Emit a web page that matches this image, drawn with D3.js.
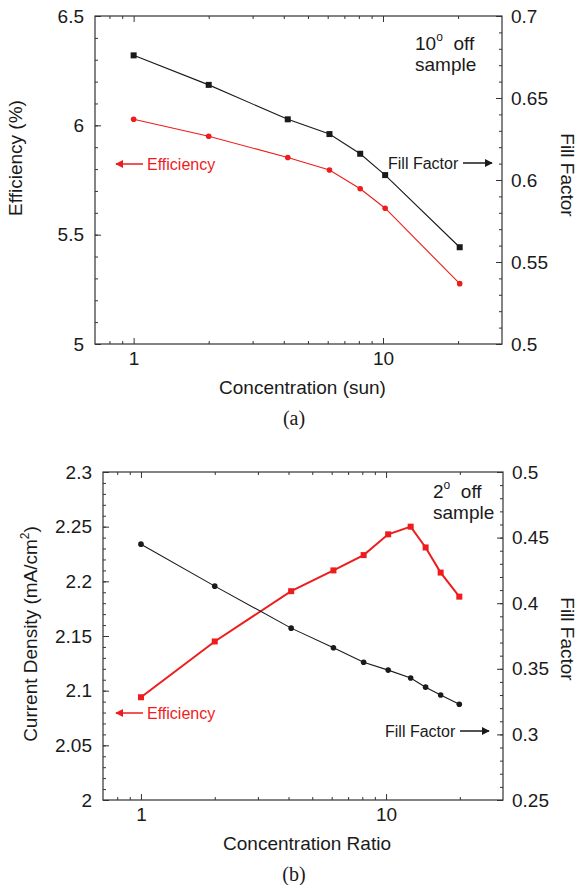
<!DOCTYPE html>
<html>
<head>
<meta charset="utf-8">
<script src="https://cdn.jsdelivr.net/npm/d3@7"></script>
<style>
    body { margin: 0; background: #fff; }
    svg text { font-family: "Liberation Sans", Arial, sans-serif; }
</style>
</head>
<body>
<div id="chart"></div>
<script>
// (a) 10 deg off sample
const concA = [1, 2, 4.15, 6.1, 8.1, 10.2, 20.3];
const effA = [6.028, 5.950, 5.853, 5.796, 5.710, 5.621, 5.276];
const ffA = [0.676, 0.658, 0.637, 0.628, 0.616, 0.603, 0.559];

// (b) 2 deg off sample
const concB = [1, 2, 4.1, 6.1, 8.1, 10.2, 12.6, 14.5, 16.7, 19.9];
const jB = [2.094, 2.145, 2.191, 2.210, 2.224, 2.243, 2.250, 2.231, 2.208, 2.186];
const ffB = [0.445, 0.413, 0.381, 0.366, 0.355, 0.349, 0.343, 0.336, 0.330, 0.323];

// tick labels
const xMajor = [1, 10];
const xMinor = [0.8, 0.9, 2, 3, 4, 5, 6, 7, 8, 9, 20];
const effTicksA = [5, 5.5, 6, 6.5];
const ffTicksA = [0.5, 0.55, 0.6, 0.65, 0.7];
const jTicksB = [2, 2.05, 2.1, 2.15, 2.2, 2.25, 2.3];
const ffTicksB = [0.25, 0.3, 0.35, 0.4, 0.45, 0.5];

const RED = "#ee1c1c";
const INK = "#1a1a1a";
const AXIS = "#333";

const svg = d3.select("#chart").append("svg")
    .attr("width", 581)
    .attr("height", 885);

// arrow heads
const defs = svg.append("defs");
[["arrRed", RED], ["arrInk", INK]].forEach(([id, c]) => {
    defs.append("marker")
        .attr("id", id)
        .attr("viewBox", "0 0 10 10")
        .attr("refX", 9).attr("refY", 5)
        .attr("markerWidth", 8).attr("markerHeight", 8)
        .attr("markerUnits", "userSpaceOnUse")
        .attr("orient", "auto")
        .append("path")
        .attr("d", "M0,0L10,5L0,10z")
        .attr("fill", c);
});

const fmt = d => String(+d.toFixed(2));

function styleAxis(sel) {
    sel.select(".domain").remove();
    sel.selectAll("line").attr("stroke", AXIS);
    sel.selectAll("text").attr("fill", INK);
    sel.attr("font-size", 19).attr("font-family", "Liberation Sans, Arial, sans-serif");
}

function drawPanel(cfg) {
    let g = svg.append("g");

    let x = d3.scaleLog().domain([0.7, 30]).range([cfg.left, cfg.right]);
    let yL = d3.scaleLinear().domain(d3.extent(cfg.leftTicks)).range([cfg.bottom, cfg.top]);
    let yR = d3.scaleLinear().domain(d3.extent(cfg.rightTicks)).range([cfg.bottom, cfg.top]);

    let minorL = d3.range(yL.domain()[0], yL.domain()[1] + 1e-9, cfg.leftStep);
    let minorR = d3.range(yR.domain()[0], yR.domain()[1] + 1e-9, cfg.rightStep);

    // x axis bottom + mirrored top
    g.append("g").attr("transform", `translate(0,${cfg.bottom})`)
        .call(d3.axisBottom(x).tickValues(xMajor).tickSize(-6).tickPadding(8).tickFormat(fmt))
        .call(styleAxis);
    g.append("g").attr("transform", `translate(0,${cfg.bottom})`)
        .call(d3.axisBottom(x).tickValues(xMinor).tickSize(-3).tickFormat(""))
        .call(styleAxis);
    g.append("g").attr("transform", `translate(0,${cfg.top})`)
        .call(d3.axisTop(x).tickValues(xMajor).tickSize(-6).tickFormat(""))
        .call(styleAxis);
    g.append("g").attr("transform", `translate(0,${cfg.top})`)
        .call(d3.axisTop(x).tickValues(xMinor).tickSize(-3).tickFormat(""))
        .call(styleAxis);

    // left axis
    g.append("g").attr("transform", `translate(${cfg.left},0)`)
        .call(d3.axisLeft(yL).tickValues(cfg.leftTicks).tickSize(-6).tickPadding(11).tickFormat(fmt))
        .call(styleAxis);
    g.append("g").attr("transform", `translate(${cfg.left},0)`)
        .call(d3.axisLeft(yL).tickValues(minorL).tickSize(-3).tickFormat(""))
        .call(styleAxis);

    // right axis
    g.append("g").attr("transform", `translate(${cfg.right},0)`)
        .call(d3.axisRight(yR).tickValues(cfg.rightTicks).tickSize(-6).tickPadding(9).tickFormat(fmt))
        .call(styleAxis);
    g.append("g").attr("transform", `translate(${cfg.right},0)`)
        .call(d3.axisRight(yR).tickValues(minorR).tickSize(-3).tickFormat(""))
        .call(styleAxis);

    // frame
    g.append("rect")
        .attr("x", cfg.left).attr("y", cfg.top)
        .attr("width", cfg.right - cfg.left).attr("height", cfg.bottom - cfg.top)
        .attr("fill", "none").attr("stroke", AXIS).attr("stroke-width", 1.2);

    // series
    let series = [
        {vals: cfg.leftVals, y: yL, color: RED, shape: cfg.redShape, w: cfg.redWidth},
        {vals: cfg.rightVals, y: yR, color: INK, shape: cfg.inkShape, w: 1.1}
    ];
    series.forEach(s => {
        let line = d3.line().x((d, i) => x(cfg.conc[i])).y(d => s.y(d));
        g.append("path").datum(s.vals)
            .attr("d", line)
            .attr("fill", "none")
            .attr("stroke", s.color)
            .attr("stroke-width", s.w);
        if (s.shape === "square") {
            g.selectAll(null).data(s.vals).join("rect")
                .attr("x", (d, i) => x(cfg.conc[i]) - 3)
                .attr("y", d => s.y(d) - 3)
                .attr("width", 6).attr("height", 6)
                .attr("fill", s.color);
        } else {
            g.selectAll(null).data(s.vals).join("circle")
                .attr("cx", (d, i) => x(cfg.conc[i]))
                .attr("cy", d => s.y(d))
                .attr("r", 2.8)
                .attr("fill", s.color);
        }
    });

    // axis titles
    let midX = (cfg.left + cfg.right) / 2 + 4;
    g.append("text")
        .attr("x", midX).attr("y", cfg.bottom + 50)
        .attr("text-anchor", "middle").attr("font-size", 19).attr("fill", INK)
        .text(cfg.xTitle);

    let lt = g.append("text")
        .attr("transform", `translate(${cfg.leftTitle[0]},${cfg.leftTitle[1]}) rotate(-90)`)
        .attr("text-anchor", "middle").attr("font-size", 19).attr("fill", INK);
    cfg.leftTitleText(lt);

    g.append("text")
        .attr("transform", `translate(${cfg.rightTitle[0]},${cfg.rightTitle[1]}) rotate(90)`)
        .attr("text-anchor", "middle").attr("font-size", 19).attr("fill", INK)
        .text("Fill Factor");

    // sample label
    let s1 = g.append("text")
        .attr("x", cfg.sample[0]).attr("y", cfg.sample[1])
        .attr("font-size", 19).attr("fill", INK);
    s1.append("tspan").text(cfg.angle);
    s1.append("tspan").attr("font-size", 12).attr("dy", -9).text("o");
    s1.append("tspan").attr("dy", 9).text("\u00a0 off");
    g.append("text")
        .attr("x", cfg.sample[0]).attr("y", cfg.sample[1] + 21)
        .attr("font-size", 19).attr("fill", INK)
        .text("sample");

    // annotations
    let e = cfg.effNote;
    g.append("line")
        .attr("x1", e[0] + 27).attr("x2", e[0]).attr("y1", e[1]).attr("y2", e[1])
        .attr("stroke", RED).attr("stroke-width", 1.5).attr("marker-end", "url(#arrRed)");
    g.append("text")
        .attr("x", e[0] + 31).attr("y", e[1] + 6)
        .attr("font-size", 16).attr("fill", RED)
        .text("Efficiency");

    let f = cfg.ffNote;
    g.append("text")
        .attr("x", f[0]).attr("y", f[1] + 6)
        .attr("font-size", 16).attr("fill", INK)
        .text("Fill Factor");
    g.append("line")
        .attr("x1", f[0] + 75).attr("x2", f[0] + 104).attr("y1", f[1]).attr("y2", f[1])
        .attr("stroke", INK).attr("stroke-width", 1.5).attr("marker-end", "url(#arrInk)");

    // panel letter
    g.append("text")
        .attr("x", 294).attr("y", cfg.letterY)
        .attr("text-anchor", "middle")
        .attr("font-size", 20).attr("fill", INK)
        .style("font-family", "Liberation Serif, Times New Roman, serif")
        .text(cfg.letter);
}

drawPanel({
    left: 95, right: 502, top: 16, bottom: 344,
    conc: concA,
    leftTicks: effTicksA, leftStep: 0.1, leftVals: effA,
    rightTicks: ffTicksA, rightStep: 0.01, rightVals: ffA,
    redShape: "circle", inkShape: "square", redWidth: 1.1,
    xTitle: "Concentration (sun)",
    leftTitle: [22, 158],
    leftTitleText: t => t.text("Efficiency (%)"),
    rightTitle: [561, 175],
    angle: "10", sample: [415, 50],
    effNote: [116, 164], ffNote: [388, 163],
    letter: "(a)", letterY: 425
});

drawPanel({
    left: 103, right: 503, top: 472, bottom: 800,
    conc: concB,
    leftTicks: jTicksB, leftStep: 0.01, leftVals: jB,
    rightTicks: ffTicksB, rightStep: 0.01, rightVals: ffB,
    redShape: "square", inkShape: "circle", redWidth: 2,
    xTitle: "Concentration Ratio",
    leftTitle: [37, 634],
    leftTitleText: t => {
        t.append("tspan").text("Current Density (mA/cm");
        t.append("tspan").attr("font-size", 12).attr("dy", -8).text("2");
        t.append("tspan").attr("dy", 8).text(")");
    },
    rightTitle: [561, 639],
    angle: "2", sample: [433, 498],
    effNote: [116, 713], ffNote: [385, 731],
    letter: "(b)", letterY: 881
});
</script>
</body>
</html>
